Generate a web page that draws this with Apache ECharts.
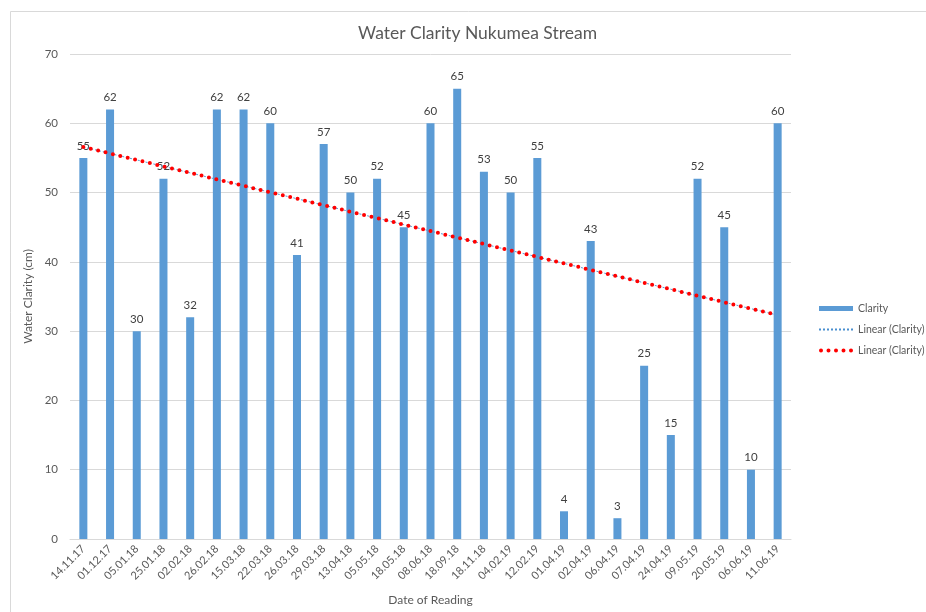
<!DOCTYPE html>
<html>
<head>
<meta charset="utf-8">
<script src="https://cdn.jsdelivr.net/npm/echarts@6/dist/echarts.min.js"></script>
<style>html,body{margin:0;padding:0;background:#fff;}#c{width:926px;height:612px;}</style>
</head>
<body>
<div id="c"></div>
<script>
const categories = ['14.11.17','01.12.17','05.01.18','25.01.18','02.02.18','26.02.18','15.03.18','22.03.18','26.03.18','29.03.18','13.04.18','05.05.18','18.05.18','08.06.18','18.09.18','18.11.18','04.02.19','12.02.19','01.04.19','02.04.19','06.04.19','07.04.19','24.04.19','09.05.19','20.05.19','06.06.19','11.06.19'];
const clarity = [55,62,30,52,32,62,62,60,41,57,50,52,45,60,65,53,50,55,4,43,3,25,15,52,45,10,60];
const yTicks = [0,10,20,30,40,50,60,70];

// Linear least-squares trendline (Excel "Linear" trendline) over x = 1..n
function linearTrend(vals) {
  const n = vals.length;
  let sx = 0, sy = 0, sxx = 0, sxy = 0;
  vals.forEach((y, i) => { const x = i + 1; sx += x; sy += y; sxx += x * x; sxy += x * y; });
  const b = (n * sxy - sx * sy) / (n * sxx - sx * sx);
  const a = (sy - b * sx) / n;
  return vals.map((_, i) => +(a + b * (i + 1)).toFixed(4));
}
const trend = linearTrend(clarity);

// legend icon paths
function dotsPath(count, step, r) {
  let p = '';
  for (let i = 0; i < count; i++) {
    const cx = r + i * step;
    p += 'M' + (cx - r) + ',' + r + ' a' + r + ',' + r + ' 0 1,0 ' + (2 * r) + ',0 a' + r + ',' + r + ' 0 1,0 ' + (-2 * r) + ',0 ';
  }
  return 'path://' + p;
}
function dashPath(count, step, w, h) {
  let p = '';
  for (let i = 0; i < count; i++) {
    const x = i * step;
    p += 'M' + x + ',0 L' + (x + w) + ',0 L' + (x + w) + ',' + h + ' L' + x + ',' + h + ' Z ';
  }
  return 'path://' + p;
}

const font = 'Lato, "Open Sans", sans-serif';
const legendText = {fontFamily: font, fontSize: 10.5, color: '#595959'};
const fmt = function (n) { return n === 'Clarity' ? 'Clarity' : 'Linear (Clarity)'; };
const chart = echarts.init(document.getElementById('c'), null, {renderer: 'canvas'});
chart.setOption({
  backgroundColor: '#fff',
  animation: false,
  textStyle: {fontFamily: font},
  graphic: [{
    type: 'rect', left: 8, top: 9, silent: true, z: -1,
    shape: {width: 940, height: 620},
    style: {fill: 'none', stroke: '#d9d9d9', lineWidth: 1}
  }],
  title: {
    text: 'Water Clarity Nukumea Stream',
    left: 353, top: 19,
    textStyle: {fontFamily: font, fontSize: 17.5, fontWeight: 'normal', color: '#595959'}
  },
  legend: [
    {left: 814, top: 298, itemWidth: 34, itemHeight: 5, textStyle: legendText, formatter: fmt,
     data: [{name: 'Clarity', icon: 'rect'}]},
    {left: 814, top: 319, itemWidth: 34, itemHeight: 2, textStyle: legendText, formatter: fmt,
     data: [{name: 'trendBlue', icon: dashPath(9, 4, 2, 2), itemStyle: {color: '#4a8fd0'}}]},
    {left: 814, top: 340, itemWidth: 34, itemHeight: 4, textStyle: legendText, formatter: fmt,
     data: [{name: 'trendRed', icon: dotsPath(5, 7.5, 2), itemStyle: {color: '#ff0000'}}]}
  ],
  grid: {left: 70, right: 135, top: 54, bottom: 73},
  xAxis: {
    type: 'category', data: categories,
    name: 'Date of Reading', nameLocation: 'middle', nameGap: 55,
    nameTextStyle: {fontFamily: font, fontSize: 12, color: '#595959'},
    axisLine: {lineStyle: {color: '#d9d9d9'}},
    axisTick: {show: false},
    axisLabel: {rotate: 45, fontFamily: font, fontSize: 11, color: '#595959', margin: 8, interval: 0}
  },
  yAxis: {
    type: 'value', min: yTicks[0], max: yTicks[yTicks.length - 1], interval: 10,
    name: 'Water Clarity (cm)', nameLocation: 'middle', nameGap: 32,
    nameTextStyle: {fontFamily: font, fontSize: 12, color: '#595959'},
    axisLine: {show: false}, axisTick: {show: false},
    axisLabel: {fontFamily: font, fontSize: 11.5, color: '#595959', margin: 12},
    splitLine: {lineStyle: {color: '#d9d9d9'}}
  },
  series: [
    {
      name: 'Clarity', type: 'bar', data: clarity, barWidth: '30%',
      itemStyle: {color: '#5b9bd5'},
      label: {show: true, position: 'top', distance: 6, fontFamily: font, fontSize: 11.5, color: '#404040'}
    },
    {
      name: 'trendBlue', type: 'line', data: trend, symbol: 'none', z: 3,
      lineStyle: {color: '#5b9bd5', width: 1, type: [2, 2]},
      itemStyle: {color: '#5b9bd5'}
    },
    {
      name: 'trendRed', type: 'line', data: trend, symbol: 'none', z: 4,
      lineStyle: {color: '#ff0000', width: 4, type: [0, 7.6], cap: 'round'},
      itemStyle: {color: '#ff0000'}
    }
  ]
});
</script>
</body>
</html>
